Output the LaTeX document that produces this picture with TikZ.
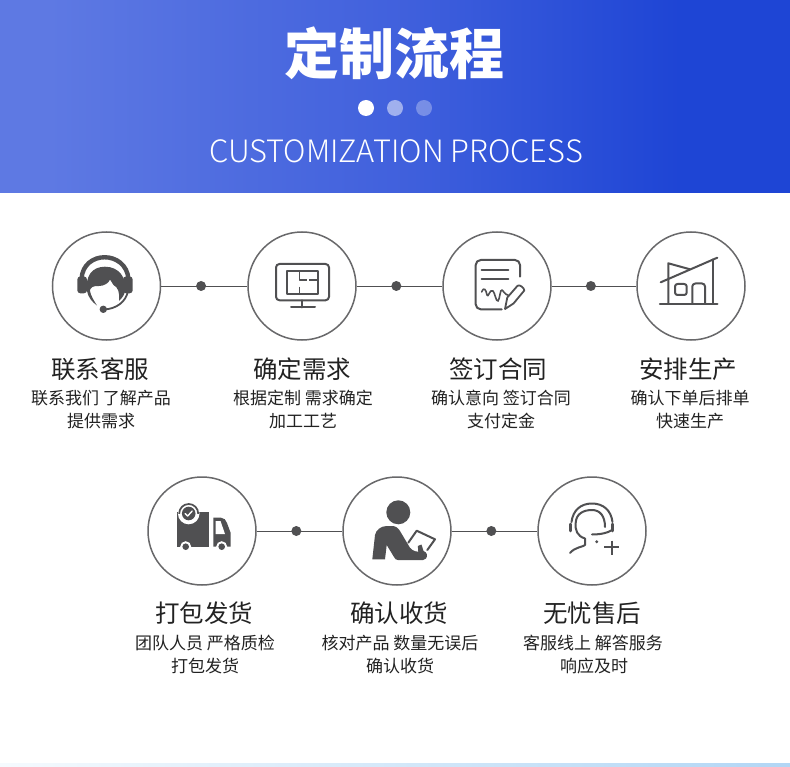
\documentclass[tikz,border=0pt]{standalone}
\usepackage{fontspec}
\setmainfont{Noto Sans CJK SC}
\newfontfamily\latinf{Noto Sans CJK SC Light}
\usetikzlibrary{calc}
\definecolor{ink}{HTML}{505052}
\definecolor{ringc}{HTML}{68686A}
\definecolor{txt}{HTML}{222222}
\pgfdeclarehorizontalshading{headgrad}{100bp}{
 rgb(0bp)=(0.369,0.475,0.890);
 rgb(28bp)=(0.369,0.475,0.890);
 rgb(50bp)=(0.255,0.380,0.865);
 rgb(68bp)=(0.118,0.270,0.835);
 rgb(100bp)=(0.118,0.270,0.835)}
\tikzset{
 ring/.style={circle,draw=ringc,line width=1.5pt,minimum size=108pt,inner sep=0pt,fill=white},
 link/.style={draw=ink,line width=0.9pt},
 linkdot/.style={circle,fill=ink,minimum size=10pt,inner sep=0pt},
 headt/.style={font=\fontsize{24.5}{27}\selectfont,text=txt,inner sep=0pt},
 subt/.style={font=\fontsize{17}{20}\selectfont,text=txt,inner sep=0pt},
 ic/.style={draw=ink,line width=2pt,line cap=round,line join=round},
 icthin/.style={draw=ink,line width=1.6pt,line cap=round,line join=round},
 icf/.style={fill=ink,draw=none}
}
\begin{document}
\begin{tikzpicture}[x=1pt,y=-1pt]
\useasboundingbox (0,0) rectangle (790,767);
\fill[white] (0,0) rectangle (790,767);
\shade[shading=headgrad] (0,0) rectangle (790,193);
\shade[left color={rgb,255:red,245;green,250;blue,254},right color={rgb,255:red,178;green,214;blue,245}] (0,763) rectangle (790,767);
% header
\node[inner sep=0pt,text=white,font=\bfseries\fontsize{55}{60}\selectfont] (title) at (394,53) {定制流程};
\node[circle,fill=white,minimum size=16pt,inner sep=0pt] (d1) at (366,108) {};
\node[circle,fill=white,fill opacity=.5,minimum size=16pt,inner sep=0pt] (d2) at (395,108) {};
\node[circle,fill=white,fill opacity=.3,minimum size=16pt,inner sep=0pt] (d3) at (424,108) {};
\node[inner sep=0pt,text=white,font=\latinf\fontsize{30.8}{36}\selectfont] (entitle) at (396,151.5) {CUSTOMIZATION PROCESS};
% rings
\node[ring] (a) at (106.5,286) {};
\node[ring] (b) at (302,286) {};
\node[ring] (c) at (497,286) {};
\node[ring] (e) at (691,286) {};
\node[ring] (f) at (202,531) {};
\node[ring] (g) at (397,531) {};
\node[ring] (h) at (592,531) {};
\foreach \p/\q/\n in {a/b/l1,b/c/l2,c/e/l3,f/g/l4,g/h/l5}{
  \draw[link] (\p) -- (\q) node[pos=0.463,linkdot] (\n) {};
}
% icon 1 headset
\fill[icf,rounded corners=3pt] (77.3,276.5) rectangle (87,293.3);
\fill[icf,rounded corners=3pt] (123,276.5) rectangle (132.7,293.3);
\draw[ink,line width=4.4pt] (81.5,279) .. controls (83,250) and (126,250) .. (128.5,279);
\fill[icf] (87,292) .. controls (85,276) and (92,266.7) .. (105,266.7) .. controls (119,266.7) and (127,278) .. (125,291)
  .. controls (124.5,295) and (122,298) .. (119,301) .. controls (120,293) and (118,287) .. (113.5,285) -- (110,279.5)
  .. controls (109,283) and (104,286) .. (99,286) .. controls (94,285.5) and (90,287) .. (89.5,292) -- cycle;
\fill[icf] (87,291) .. controls (88,297) and (92,302) .. (97,305.5) .. controls (93.5,300) and (91,296) .. (90,291) -- cycle;
\draw[ink,line width=1.8pt] (128,291) .. controls (126,302) and (116,309) .. (104,309.5);
\fill[icf] (103.3,309.3) circle (3.7);
% icon 2 monitor
\draw[ic,rounded corners=3.5pt] (276,264) rectangle (329,300.3);
\draw[ic] (302.3,300.3) -- (302.3,307.5);
\draw[ic] (291,307.5) -- (315,307.5);
\draw[ic,line cap=butt] (287,270.7) rectangle (318.3,294);
\draw[icthin,line cap=butt] (299.3,270.7) -- (299.3,280) -- (306.7,280);
\draw[icthin,line cap=butt] (309.3,280) -- (318.3,280);
\draw[icthin,line cap=butt] (299.3,286.7) -- (299.3,294);
% icon 3 contract
\draw[ic,rounded corners=5pt] (520,276.7) -- (520,260) -- (475.7,260) -- (475.7,309.3) -- (501.7,309.3);
\draw[ic] (481.7,270) -- (508.3,270);
\draw[ic] (481.7,279.3) -- (508.3,279.3);
\draw[icthin] (481.7,292) .. controls (484,286) and (486,290) .. (487,295) .. controls (488,299) and (490,288) .. (493,291) .. controls (495,293) and (496,302) .. (498,301) .. controls (500,299) and (500,289) .. (502,290) .. controls (504,291) and (505,295) .. (508,295);
\draw[ic,line width=1.8pt] (505,309) -- (507.3,297.5) -- (517.5,285.8) .. controls (519.5,284) and (524.5,288) .. (524.3,290.5) -- (513.5,303.5) -- cycle;
% icon 4 house
\draw[ic,line width=2.5pt] (660,304) -- (717.3,304);
\draw[ic] (660.7,282.3) -- (717.3,257.7);
\draw[ic] (713.3,259.5) -- (713.3,304);
\draw[ic] (668.3,304) -- (668.3,263.3) -- (690,269.3);
\draw[ic,rounded corners=2.5pt] (675,284) rectangle (686.7,295);
\draw[ic,rounded corners=3pt] (692.3,304) -- (692.3,283.5) -- (705,283.5) -- (705,304);
% icon 5 truck
\fill[icf] (177.3,511.7) rectangle (208.5,546.7);
\fill[icf] (213.3,517.7) -- (221,517.7) .. controls (224,517.7) and (226,520) .. (227,523) -- (230.7,533) -- (230.7,546.7) -- (213.3,546.7) -- cycle;
\fill[white] (215.7,521) -- (220.5,521) -- (225,534) -- (215.7,534) -- cycle;
\fill[white] (188.7,513.5) circle (10.8);
\begin{scope}
\clip (170,500) rectangle (203,513);
\draw[ink,line width=1.7pt] (188.7,513.5) circle (9.5);
\end{scope}
\fill[icf] (188.7,513.5) circle (6.8);
\draw[white,line width=1.4pt,line cap=round,line join=round] (185.2,513.5) -- (187.7,516) -- (192.2,511);
\fill[white] (185.7,546.7) circle (5.5);
\fill[white] (221.7,546.7) circle (5.5);
\fill[white] (170,547) rectangle (240,553);
\fill[icf] (185.7,546.7) circle (3.3);
\fill[icf] (221.7,546.7) circle (3.3);
% icon 6 person
\fill[icf] (398.3,512.3) circle (12);
\fill[icf] (372.3,559.3) -- (375,535) .. controls (376,530) and (381,526) .. (386.7,526) -- (392,526) .. controls (396,526) and (398,528) .. (400,531) -- (408.3,545) .. controls (410,549) and (414,551.7) .. (418.3,551.7) -- (417.8,546) -- (421.5,544.5) -- (423.5,551) .. controls (427,552) and (428,556) .. (426,558.5) .. controls (425,560) and (424,560) .. (423,560) -- (398,560) .. controls (396,560) and (395,559) .. (394,557) -- (386.7,545) -- (385,559.3) -- cycle;
\draw[ic] (408.3,542.7) -- (416.7,530.7) -- (435,539.3) -- (427.3,550);
% icon 7 agent
\draw[ic] (571.5,522) .. controls (573,510) and (581,503.5) .. (592,503.5) .. controls (603,503.5) and (611,510) .. (612.5,522);
\draw[ic,line width=2.6pt] (570.5,524) -- (570.5,531);
\draw[ic,line width=2.6pt] (612.7,524) -- (612.7,531);
\draw[ic] (605,527) .. controls (605,516) and (600,510) .. (592,510) .. controls (583,510) and (576,514) .. (575.7,523) .. controls (575,530) and (577,536) .. (585,538.5) -- (585,545) .. controls (583,547) and (575,547) .. (570,553);
\draw[ic] (592,534.5) .. controls (600,534.5) and (608,533) .. (612,530);
\fill[icf] (596.7,541.7) circle (1.6);
\draw[ic,line cap=butt] (604,547.3) -- (619,547.3);
\draw[ic,line cap=butt] (611.7,540.5) -- (611.7,555);
% labels
\node[headt] (t1) at (100,369) {联系客服};
\node[subt] (s1a) at (101,398) {联系我们 了解产品};
\node[subt] (s1b) at (101,421) {提供需求};
\node[headt] (t2) at (302,369) {确定需求};
\node[subt] (s2a) at (303,398) {根据定制 需求确定};
\node[subt] (s2b) at (303,421) {加工工艺};
\node[headt] (t3) at (498,369) {签订合同};
\node[subt] (s3a) at (501,398) {确认意向 签订合同};
\node[subt] (s3b) at (501,421) {支付定金};
\node[headt] (t4) at (688,369) {安排生产};
\node[subt] (s4a) at (690,398) {确认下单后排单};
\node[subt] (s4b) at (690,421) {快速生产};
\node[headt] (t5) at (204,613) {打包发货};
\node[subt] (s5a) at (205,643) {团队人员 严格质检};
\node[subt] (s5b) at (205,666) {打包发货};
\node[headt] (t6) at (399,613) {确认收货};
\node[subt] (s6a) at (400,643) {核对产品 数量无误后};
\node[subt] (s6b) at (400,666) {确认收货};
\node[headt] (t7) at (592,613) {无忧售后};
\node[subt] (s7a) at (593,643) {客服线上 解答服务};
\node[subt] (s7b) at (594,666) {响应及时};
\end{tikzpicture}
\end{document}
